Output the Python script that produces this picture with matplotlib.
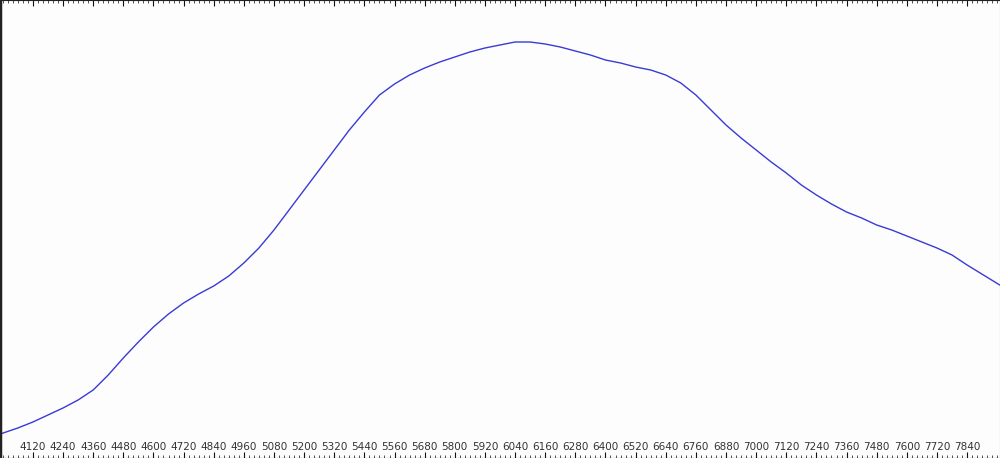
import matplotlib.pyplot as plt
import numpy as np
from matplotlib.ticker import MultipleLocator

# data (x in wavelength-like units, y in arbitrary units)
x_vals = [3990, 4060, 4120, 4180, 4240, 4300, 4360, 4420, 4480, 4540, 4600,
          4660, 4720, 4780, 4840, 4900, 4960, 5020, 5080, 5140, 5200, 5260,
          5320, 5380, 5440, 5500, 5560, 5620, 5680, 5740, 5800, 5860, 5920,
          5980, 6040, 6100, 6160, 6220, 6280, 6340, 6400, 6460, 6520, 6580,
          6640, 6700, 6760, 6820, 6880, 6940, 7000, 7060, 7120, 7180, 7240,
          7300, 7360, 7420, 7480, 7540, 7600, 7660, 7720, 7780, 7840, 7905,
          7970]
y_vals = [24, 30, 36, 43, 50, 58, 68, 83, 100, 116, 131,
          144, 155, 164, 172, 182, 195, 210, 228, 248, 268, 288,
          308, 328, 346, 363, 374, 383, 390, 396, 401, 406, 410,
          413, 416, 416, 414, 411, 407, 403, 398, 395, 391, 388,
          383, 375, 363, 348, 333, 320, 308, 296, 285, 273, 263,
          254, 246, 240, 233, 228, 222, 216, 210, 203, 193, 183,
          173]
tick_labels = list(range(4120, 7841, 120))

fig = plt.figure(figsize=(10, 4.58), dpi=100)
fig.patch.set_facecolor('#fdfdfd')
ax = fig.add_axes([0, 0, 1, 1])
ax.set_facecolor('#fdfdfd')

ax.plot(x_vals, y_vals, color='#3a3ad6', linewidth=1.0)

ax.set_xlim(3989, 7971)
ax.set_ylim(0, 458)
ax.set_yticks([])

ax.set_xticks(tick_labels)
ax.set_xticklabels([str(t) for t in tick_labels], fontsize=7.5, color='#333333')
ax.xaxis.set_minor_locator(MultipleLocator(20))
ax.tick_params(axis='x', which='major', direction='in', length=4, width=0.8,
               top=True, bottom=True, pad=-11.5, colors='#111111',
               labelcolor='#333333')
ax.tick_params(axis='x', which='minor', direction='in', length=2, width=0.6,
               top=True, bottom=True, colors='#333333')

ax.spines['left'].set_linewidth(2.5)
ax.spines['left'].set_color('#222222')
ax.spines['right'].set_color('#999999')
ax.spines['top'].set_color('#222222')
ax.spines['bottom'].set_color('#222222')

fig.savefig('out.png', dpi=100, facecolor=fig.get_facecolor())
